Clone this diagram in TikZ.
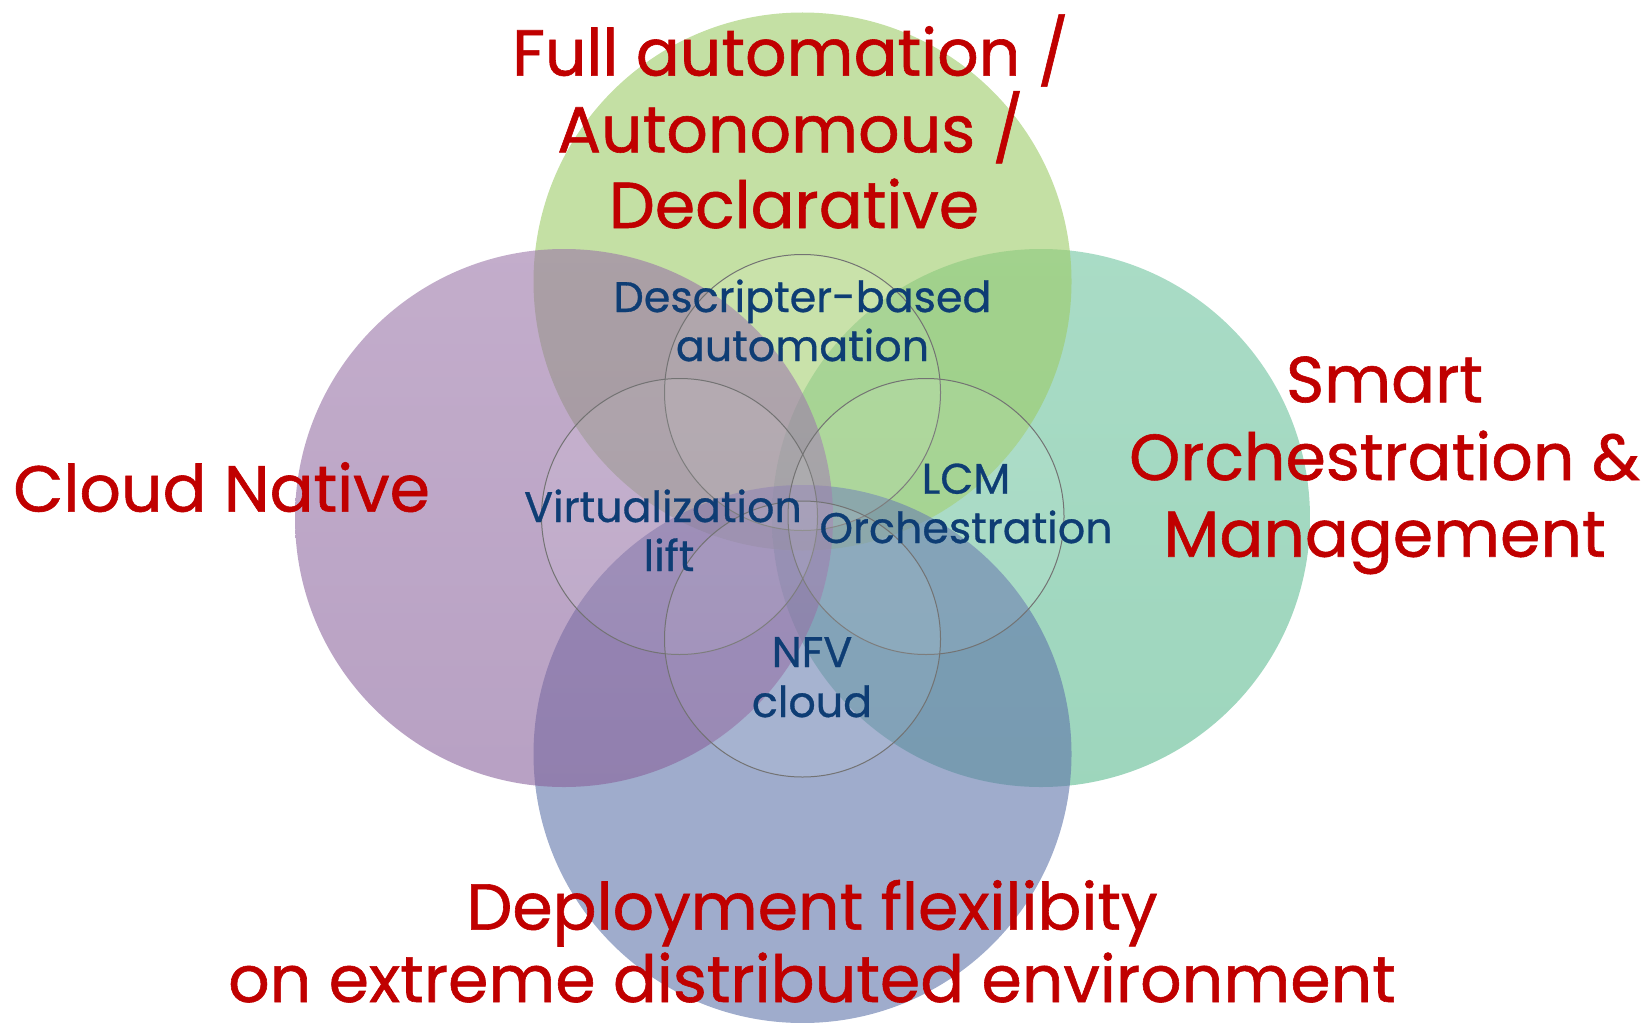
\documentclass[tikz,border=0pt]{standalone}
\usepackage{fontspec}
\setmainfont{Poppins}
% a slightly heavier cut of the same face for all labels
\newfontfamily\labelfont{Poppins}[FakeBold=0.9]
\newfontfamily\taglabelfont{Poppins}[FakeBold=0.7]
% fill colours of the four theme circles (drawn translucent)
\definecolor{circgreen}{RGB}{157,203,103}
\definecolor{circpurpletop}{RGB}{155,118,168}
\definecolor{circpurplebot}{RGB}{136,98,156}
\definecolor{circtealtop}{RGB}{112,196,160}
\definecolor{circtealbot}{RGB}{92,186,144}
\definecolor{circblue}{RGB}{95,117,170}
\definecolor{headred}{RGB}{192,0,0}
\definecolor{tagblue}{RGB}{14,61,116}
\begin{document}
\begin{tikzpicture}[x=0.5pt,y=-0.5pt,
  bigcircle/.style={fill opacity=0.6},
  innercircle/.style={draw=black!55, line width=0.5pt, fill=white, fill opacity=0.08},
  headline/.style={anchor=base, inner sep=0pt, text=headred,
    font=\labelfont\fontsize{32.5}{38}\selectfont},
  tagline/.style={anchor=base, inner sep=0pt, text=tagblue,
    font=\taglabelfont\fontsize{21.4}{25}\selectfont}]
\useasboundingbox (0,0) rectangle (1647,1022);

% four large theme circles
\shade[bigcircle, top color=circtealtop, bottom color=circtealbot]
  (1041,518) circle[radius=269];
\fill[bigcircle, circgreen]  (802.5,281.5) circle[radius=269];
\fill[bigcircle, circblue]   (802.5,754)  circle[radius=269];
\shade[bigcircle, top color=circpurpletop, bottom color=circpurplebot]
  (564,518) circle[radius=269];

% four small overlapping circles in the middle
\path[innercircle] (802.5,392.5) circle[radius=138];
\path[innercircle] (679.5,516.5) circle[radius=138];
\path[innercircle] (926,516.5)   circle[radius=138];
\path[innercircle] (802.5,639)   circle[radius=138];

% headline labels
\node[headline] (full1) at (790.4,75.6)  {Full automation /};
\node[headline] (full2) at (790.4,152.3) {Autonomous /};
\node[headline] (full3) at (794,228)     {Declarative};
\node[headline] (cloud) at (221.6,511.6) {Cloud Native};
\node[headline] (smart1) at (1384.5,402.3) {Smart};
\node[headline] (smart2) at (1384.5,480)   {Orchestration \&};
\node[headline] (smart3) at (1384.5,556.7) {Management};
\node[headline] (deploy1) at (812,929.6) {Deployment flexilibity};
\node[headline] (deploy2) at (812,1002)  {on extreme distributed environment};

% inner labels
\node[tagline] (desc1) at (802.5,312) {Descripter-based};
\node[tagline] (desc2) at (802.5,361) {automation};
\node[tagline] (virt1) at (663,522)   {Virtualization};
\node[tagline] (virt2) at (669,571)   {lift};
\node[tagline] (lcm1)  at (966,493.7) {LCM};
\node[tagline] (lcm2)  at (966,543)   {Orchestration};
\node[tagline] (nfv1)  at (812,667)   {NFV};
\node[tagline] (nfv2)  at (812,717)   {cloud};
\end{tikzpicture}
\end{document}
